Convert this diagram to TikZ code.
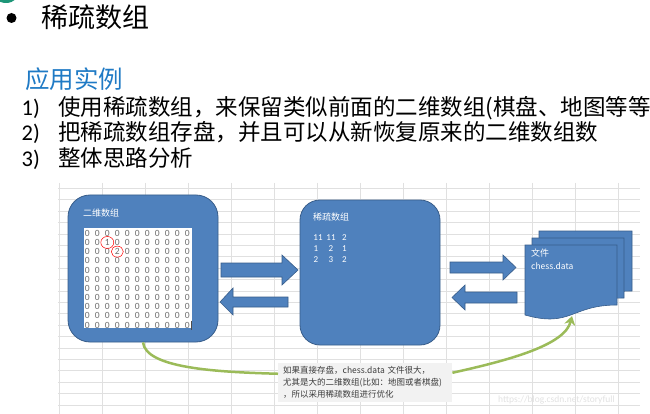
\documentclass[tikz,border=0pt]{standalone}
\usepackage{fontspec}
\setmainfont{Carlito}
\newfontfamily\cjk{Noto Sans CJK SC}
\usetikzlibrary{arrows.meta}
\definecolor{boxblue}{RGB}{79,129,189}
\definecolor{boxline}{RGB}{56,93,138}
\definecolor{gridc}{RGB}{224,224,224}
\definecolor{greenc}{RGB}{155,187,89}
\definecolor{headblue}{RGB}{31,122,197}
\definecolor{notegray}{RGB}{242,242,242}
\definecolor{zerogray}{RGB}{110,110,110}
\definecolor{notetext}{RGB}{60,60,60}
\definecolor{tealc}{RGB}{30,150,120}
\definecolor{wmark}{RGB}{226,226,226}
\tikzset{
  bluebox/.style={fill=boxblue, draw=boxline, line width=0.8pt, rounded corners=22pt, inner sep=0},
  barrowst/.style={fill=boxblue, draw=boxline, line width=0.6pt},
  docst/.style={fill=boxblue, draw=boxline, line width=0.6pt},
  wlabel/.style={text=white, font=\cjk\fontsize{9}{9}\selectfont, inner sep=0, anchor=west},
  wnum/.style={text=white, font=\fontsize{9}{9}\selectfont, inner sep=0},
  zero/.style={text=zerogray, font=\fontsize{9.5}{9.5}\selectfont, inner sep=0},
  greenconn/.style={draw=greenc, line width=2.5pt},
  listnum/.style={anchor=base west, inner sep=0, font=\fontsize{22.5}{22.5}\selectfont},
  listtext/.style={anchor=base west, inner sep=0, font=\cjk\fontsize{22.5}{22.5}\selectfont},
}
\begin{document}
\begin{tikzpicture}[x=1pt,y=-1pt]
\useasboundingbox (0,0) rectangle (650,414);
\begin{scope}
\clip (0,0) rectangle (650,414);
\fill[white] (0,0) rectangle (650,414);
% top-left decoration
\fill[tealc] (6,-10) ellipse (14 and 13);
% spreadsheet grid
\foreach \x in {59,102,145,188,231,274,317,360,403,446,489,532,575,618}
  \draw[gridc, line width=0.6pt] (\x,183) -- (\x,414);
\foreach \k in {0,...,19}
  \draw[gridc, line width=0.6pt] (58,188.3+11.4*\k) -- (640,188.3+11.4*\k);
% header
\node[circle, fill=black, inner sep=0, minimum size=10pt] (bul) at (11.5,18) {};
\node[anchor=base west, inner sep=0, font=\cjk\fontsize{27}{27}\selectfont] (title) at (41,27.5) {稀疏数组};
\node[anchor=base west, inner sep=0, text=headblue, font=\cjk\fontsize{24.5}{24.5}\selectfont] (head) at (25,88.3) {应用实例};
\node[listnum] (n1) at (21.5,115.6) {1)};
\node[listtext] (t1) at (58,115.6) {使用稀疏数组，来保留类似前面的二维数组(棋盘、地图等等};
\node[listnum] (n2) at (21.5,140.6) {2)};
\node[listtext] (t2) at (58,140.6) {把稀疏数组存盘，并且可以从新恢复原来的二维数组数};
\node[listnum] (n3) at (21.5,166.3) {3)};
\node[listtext] (t3) at (58,166.3) {整体思路分析};
% left box: 2D array
\node[bluebox, minimum width=150pt, minimum height=147pt] (L) at (143,268.5) {};
\node[wlabel] (Llab) at (83,213) {二维数组};
\node[fill=white, minimum width=108pt, minimum height=100pt, inner sep=0] (W) at (138,278) {};
\foreach \r in {0,...,10}
  \foreach \c in {0,...,10}{
    \pgfmathtruncatemacro{\v}{(\r==1 && \c==2) ? 1 : ((\r==2 && \c==3) ? 2 : 0)}
    \node[zero] (z-\r-\c) at (87.3+10*\c,233.3+9.17*\r) {\v};
  }
\draw[red, line width=0.5pt] (z-1-2) ellipse (6.5 and 6);
\draw[red, line width=0.5pt] (z-2-3) ellipse (6 and 5.5);
\draw[black!70, line width=0.5pt] (190.8,320.5) -- (190.8,329.5);
% middle box: sparse array
\node[bluebox, rounded corners=20pt, minimum width=140pt, minimum height=145pt] (M) at (370,272.5) {};
\node[wlabel] (Mlab) at (313,217) {稀疏数组};
\node[wnum] (s11) at (318,238) {11};
\node[wnum] (s12) at (331,238) {11};
\node[wnum] (s13) at (344.5,238) {2};
\node[wnum] (s21) at (316,249) {1};
\node[wnum] (s22) at (331,249) {2};
\node[wnum] (s23) at (344.5,249) {1};
\node[wnum] (s31) at (316,260) {2};
\node[wnum] (s32) at (331,260) {3};
\node[wnum] (s33) at (344.5,260) {2};
% block arrows
\filldraw[barrowst] (221,263) -- (282,263) -- (282,255) -- (298,270) -- (282,285) -- (282,277) -- (221,277) -- cycle;
\filldraw[barrowst] (220,302) -- (233,288) -- (233,297) -- (288,297) -- (288,307) -- (233,307) -- (233,315) -- cycle;
\filldraw[barrowst] (450,262) -- (503,262) -- (503,255) -- (516,267.5) -- (503,280) -- (503,273) -- (450,273) -- cycle;
\filldraw[barrowst] (452,297.5) -- (465,285) -- (465,292) -- (517,292) -- (517,303) -- (465,303) -- (465,310) -- cycle;
% file (multi-document)
\begin{scope}[shift={(539,231)}]
  \filldraw[docst] (0,0) -- (93,0) -- (93,60) .. controls (46,60) and (46,83) .. (0,70) -- cycle;
\end{scope}
\begin{scope}[shift={(532,238)}]
  \filldraw[docst] (0,0) -- (92,0) -- (92,60) .. controls (46,60) and (46,83) .. (0,70) -- cycle;
\end{scope}
\begin{scope}[shift={(525,245)}]
  \filldraw[docst] (0,0) -- (92,0) -- (92,60) .. controls (46,60) and (46,83) .. (0,70) -- cycle;
\end{scope}
\node[wlabel] (Flab) at (531,253) {文件};
\node[wlabel, font=\cjk\fontsize{8.5}{8.5}\selectfont] (Fname) at (531,266) {chess.data};
\coordinate (Fb) at (572,316);
% note
\node[fill=notegray, anchor=north west, inner xsep=5pt, inner ysep=3.5pt, text width=164pt, align=left, text=notetext, font=\cjk\fontsize{8.5}{12}\selectfont] (T) at (278,363) {如果直接存盘，chess.data 文件很大，\\尤其是大的二维数组(比如：地图或者棋盘)\\，所以采用稀疏数组进行优化};
% green connectors
\draw[greenconn] (L.south) .. controls (146,368) and (215,372) .. ([yshift=9pt]T.west);
\draw[greenconn, -{Stealth[length=9pt,width=11pt]}] ([yshift=10pt]T.east) .. controls (510,360) and (565,345) .. (Fb);
% watermark
\node[anchor=west, inner sep=0, text=wmark, font=\fontsize{9.5}{9.5}\selectfont] (wm) at (498,400) {https://blog.csdn.net/storyfull};
\end{scope}
\end{tikzpicture}
\end{document}
